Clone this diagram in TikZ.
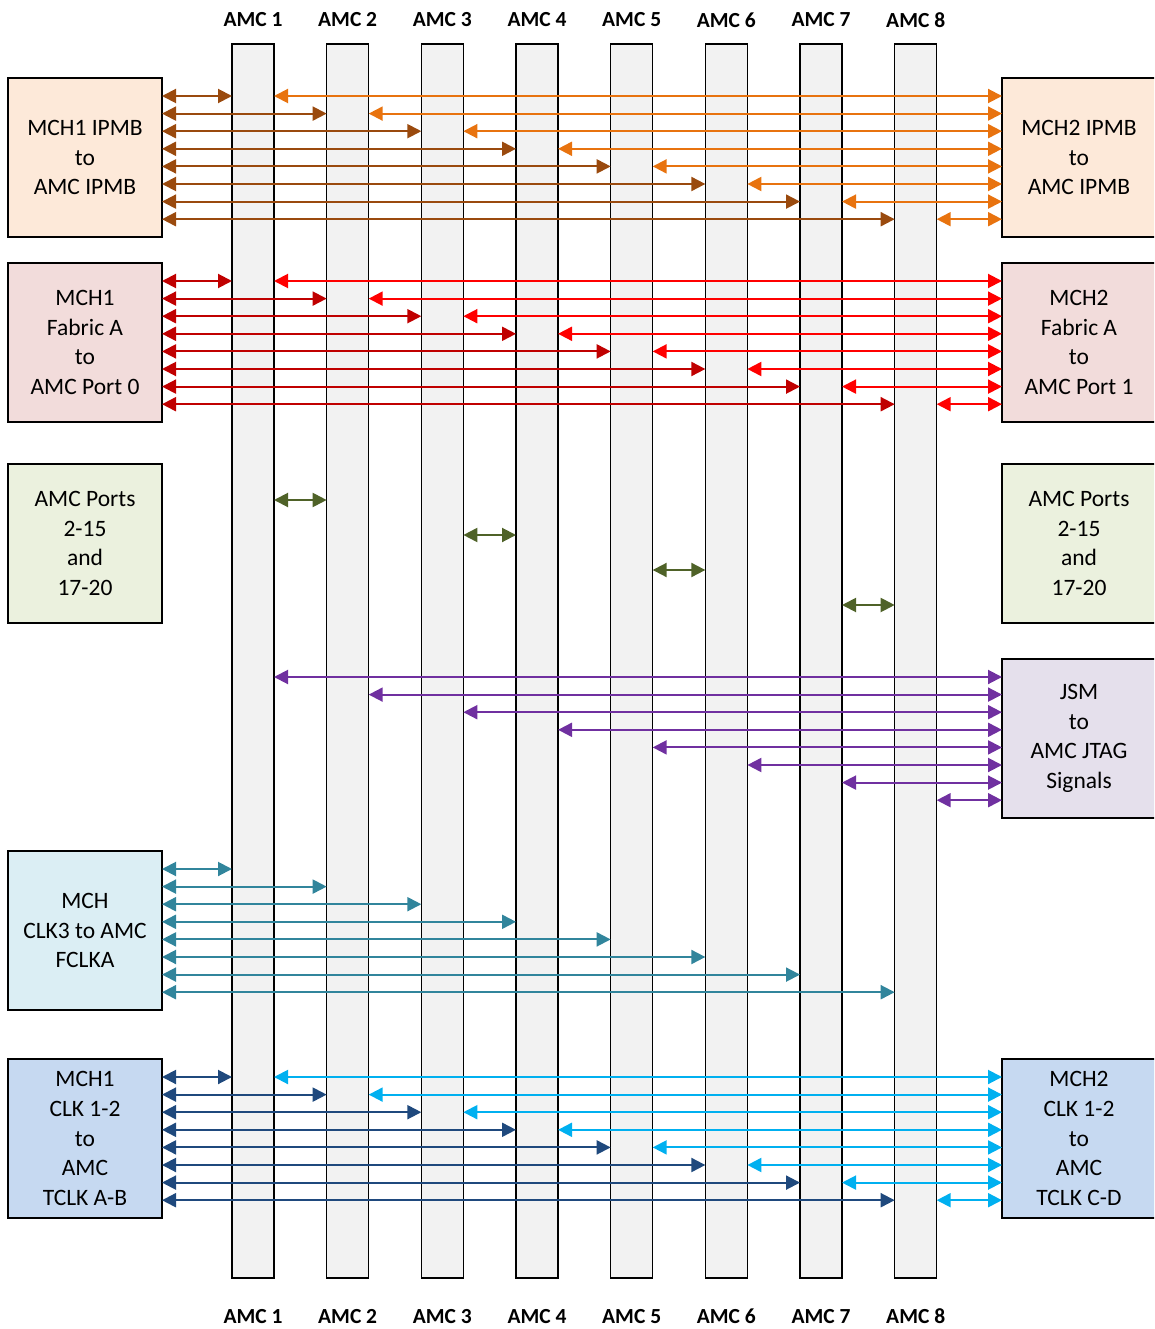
\documentclass[tikz,border=0pt]{standalone}
\usepackage{fontspec}
\setmainfont{Carlito}
\usetikzlibrary{arrows.meta}
\definecolor{colgray}{HTML}{F2F2F2}
\definecolor{fIPMB}{HTML}{FDE9D9}
\definecolor{fFab}{HTML}{F2DCDB}
\definecolor{fGrn}{HTML}{EBF1DE}
\definecolor{fJSM}{HTML}{E5E0EC}
\definecolor{fCLKt}{HTML}{DBEEF4}
\definecolor{fCLK}{HTML}{C6D9F1}
\definecolor{aBrown}{HTML}{9A4A0E}
\definecolor{aOrange}{HTML}{E8730F}
\definecolor{aDRed}{HTML}{C00000}
\definecolor{aRed}{HTML}{FF0000}
\definecolor{aGreen}{HTML}{4F6228}
\definecolor{aPurple}{HTML}{7030A0}
\definecolor{aTeal}{HTML}{31859C}
\definecolor{aDBlue}{HTML}{1F497D}
\definecolor{aLBlue}{HTML}{00B0F0}
\begin{document}
\begin{tikzpicture}[x=1pt,y=-1pt,
  col/.style={draw=black, line width=1.5pt, fill=colgray, minimum width=42pt,
    minimum height=1234pt, inner sep=0pt, outer sep=0pt, anchor=north west},
  box/.style={draw=black, line width=1.5pt, minimum width=154pt, minimum height=159pt,
    inner sep=0pt, outer sep=0pt, align=center, anchor=north west,
    font=\fontsize{23.5}{29.6}\selectfont},
  lbl/.style={font=\fontsize{21.5}{24}\selectfont\bfseries, inner sep=0pt},
  sig/.style={line width=2pt, {Triangle[length=14pt,width=14pt]}-{Triangle[length=14pt,width=14pt]}}
]
\useasboundingbox (0,0) rectangle (1154,1329);
\clip (0,0) rectangle (1154,1329);

% AMC columns and labels
\foreach \k in {1,...,8} {
  \node[col] (c\k) at ({232+94.67*(\k-1)},44) {};
  \node[lbl] (t\k) at ({253+94.67*(\k-1)},20) {AMC \k};
  \node[lbl] (b\k) at ({253+94.67*(\k-1)},1316.5) {AMC \k};
}

% Left boxes
\node[box, fill=fIPMB] (L1) at (8,78) {MCH1 IPMB\\to\\AMC IPMB};
\node[box, fill=fFab] (L2) at (8,263) {MCH1\\Fabric A\\to\\AMC Port 0};
\node[box, fill=fGrn] (L3) at (8,464) {AMC Ports\\2-15\\and\\17-20};
\node[box, fill=fCLKt] (L5) at (8,851) {MCH\\CLK3 to AMC\\FCLKA};
\node[box, fill=fCLK] (L6) at (8,1059) {MCH1\\CLK 1-2\\to\\AMC\\TCLK A-B};

% Right boxes
\node[box, fill=fIPMB] (R1) at (1002,78) {MCH2 IPMB\\to\\AMC IPMB};
\node[box, fill=fFab] (R2) at (1002,263) {MCH2\\Fabric A\\to\\AMC Port 1};
\node[box, fill=fGrn] (R3) at (1002,464) {AMC Ports\\2-15\\and\\17-20};
\node[box, fill=fJSM] (R4) at (1002,659) {JSM\\to\\AMC JTAG\\Signals};
\node[box, fill=fCLK] (R6) at (1002,1059) {MCH2\\CLK 1-2\\to\\AMC\\TCLK C-D};

% Signal rows
\foreach \k [evaluate=\k as \ya using {96+17.6*(\k-1)},
             evaluate=\k as \yb using {281+17.6*(\k-1)},
             evaluate=\k as \yc using {677+17.6*(\k-1)},
             evaluate=\k as \yd using {869+17.6*(\k-1)},
             evaluate=\k as \ye using {1077+17.6*(\k-1)}] in {1,...,8} {
  \draw[sig, aBrown] (L1.east |- 0,\ya) -- (c\k.west |- 0,\ya);
  \draw[sig, aOrange] (c\k.east |- 0,\ya) -- (R1.west |- 0,\ya);
  \draw[sig, aDRed] (L2.east |- 0,\yb) -- (c\k.west |- 0,\yb);
  \draw[sig, aRed] (c\k.east |- 0,\yb) -- (R2.west |- 0,\yb);
  \draw[sig, aPurple] (c\k.east |- 0,\yc) -- (R4.west |- 0,\yc);
  \draw[sig, aTeal] (L5.east |- 0,\yd) -- (c\k.west |- 0,\yd);
  \draw[sig, aDBlue] (L6.east |- 0,\ye) -- (c\k.west |- 0,\ye);
  \draw[sig, aLBlue] (c\k.east |- 0,\ye) -- (R6.west |- 0,\ye);
}

% AMC port links between neighbouring AMCs
\draw[sig, aGreen] (c1.east |- 0,500) -- (c2.west |- 0,500);
\draw[sig, aGreen] (c3.east |- 0,535) -- (c4.west |- 0,535);
\draw[sig, aGreen] (c5.east |- 0,570) -- (c6.west |- 0,570);
\draw[sig, aGreen] (c7.east |- 0,605) -- (c8.west |- 0,605);
\end{tikzpicture}
\end{document}
